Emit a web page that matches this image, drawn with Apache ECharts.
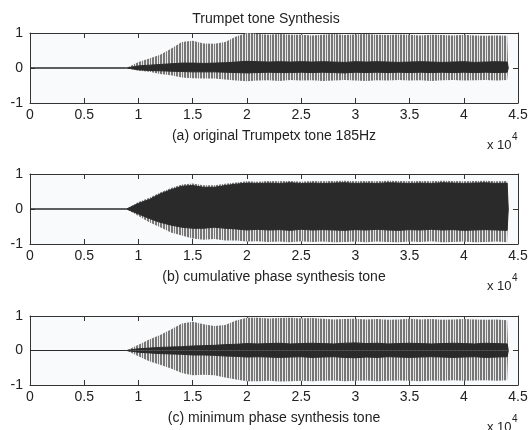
<!DOCTYPE html>
<html>
<head>
<meta charset="utf-8">
<script src="https://cdn.jsdelivr.net/npm/echarts@6/dist/echarts.min.js"></script>
<style>
  html, body { margin: 0; padding: 0; background: #ffffff; }
  #chart { width: 532px; height: 430px; }
</style>
</head>
<body>
<div id="chart"></div>
<script>
// Sample positions (sample index) where the waveform envelopes are given
const sampleIdx = [0, 8900, 9000, 10000, 11000, 12000, 13000, 14000, 15000, 16000, 17000, 18000, 19000, 20000, 21000, 22000, 23000, 24000, 25000, 26000, 27000, 28000, 29000, 30000, 31000, 32000, 33000, 34000, 35000, 36000, 37000, 38000, 39000, 40000, 41000, 42000, 43000, 44000, 44100];

// (a) original trumpet tone: peak envelopes and dense core
const peakUpA = [0, 0, 0.05, 0.17, 0.27, 0.38, 0.55, 0.74, 0.78, 0.70, 0.69, 0.74, 0.90, 1.0, 0.97, 0.95, 0.97, 0.95, 0.95, 0.93, 0.95, 0.97, 0.94, 0.96, 0.97, 0.95, 0.94, 0.96, 0.95, 0.93, 0.95, 0.94, 0.93, 0.95, 0.93, 0.92, 0.93, 0.92, 0];
const peakDnA = [0, 0, -0.04, -0.08, -0.11, -0.17, -0.21, -0.27, -0.29, -0.30, -0.30, -0.33, -0.36, -0.38, -0.36, -0.35, -0.37, -0.34, -0.36, -0.35, -0.37, -0.36, -0.34, -0.36, -0.37, -0.35, -0.36, -0.34, -0.36, -0.35, -0.37, -0.35, -0.34, -0.36, -0.35, -0.34, -0.36, -0.34, 0];
const coreUpA = [0, 0, 0.04, 0.06, 0.08, 0.10, 0.12, 0.14, 0.14, 0.13, 0.14, 0.15, 0.17, 0.19, 0.18, 0.17, 0.18, 0.17, 0.18, 0.17, 0.18, 0.17, 0.16, 0.18, 0.17, 0.18, 0.17, 0.16, 0.17, 0.18, 0.17, 0.16, 0.17, 0.18, 0.16, 0.17, 0.18, 0.17, 0];
const coreDnA = [0, 0, -0.04, -0.05, -0.07, -0.08, -0.09, -0.10, -0.11, -0.11, -0.11, -0.12, -0.13, -0.14, -0.13, -0.12, -0.13, -0.13, -0.12, -0.13, -0.12, -0.13, -0.14, -0.12, -0.13, -0.12, -0.13, -0.12, -0.13, -0.12, -0.13, -0.12, -0.13, -0.12, -0.13, -0.12, -0.13, -0.12, 0];

// (b) cumulative phase synthesis tone
const peakUpB = [0, 0, 0.03, 0.20, 0.32, 0.47, 0.60, 0.70, 0.73, 0.68, 0.68, 0.72, 0.76, 0.79, 0.78, 0.80, 0.79, 0.80, 0.78, 0.80, 0.79, 0.80, 0.81, 0.79, 0.80, 0.79, 0.81, 0.80, 0.79, 0.80, 0.79, 0.81, 0.80, 0.79, 0.80, 0.81, 0.79, 0.80, 0];
const peakDnB = [0, 0, -0.04, -0.20, -0.38, -0.52, -0.67, -0.76, -0.84, -0.88, -0.86, -0.90, -0.90, -0.93, -0.92, -0.94, -0.93, -0.95, -0.92, -0.94, -0.93, -0.95, -0.94, -0.93, -0.95, -0.93, -0.94, -0.95, -0.93, -0.94, -0.92, -0.95, -0.94, -0.93, -0.95, -0.94, -0.93, -0.95, 0];
const coreUpB = [0, 0, 0.02, 0.16, 0.27, 0.43, 0.55, 0.65, 0.67, 0.62, 0.62, 0.67, 0.71, 0.74, 0.73, 0.74, 0.73, 0.75, 0.73, 0.74, 0.73, 0.74, 0.75, 0.73, 0.74, 0.73, 0.75, 0.74, 0.73, 0.74, 0.73, 0.75, 0.74, 0.73, 0.74, 0.75, 0.73, 0.74, 0];
const coreDnB = [0, 0, -0.02, -0.14, -0.27, -0.38, -0.46, -0.52, -0.55, -0.55, -0.52, -0.55, -0.57, -0.60, -0.58, -0.60, -0.59, -0.61, -0.58, -0.60, -0.59, -0.60, -0.61, -0.59, -0.60, -0.58, -0.60, -0.61, -0.59, -0.60, -0.58, -0.60, -0.59, -0.61, -0.60, -0.59, -0.60, -0.61, 0];

// (c) minimum phase synthesis tone
const peakUpC = [0, 0, 0.04, 0.17, 0.32, 0.45, 0.61, 0.78, 0.83, 0.76, 0.71, 0.74, 0.87, 0.95, 0.95, 0.93, 0.94, 0.95, 0.93, 0.94, 0.92, 0.90, 0.91, 0.92, 0.90, 0.91, 0.89, 0.90, 0.92, 0.90, 0.91, 0.89, 0.90, 0.91, 0.90, 0.89, 0.90, 0.88, 0];
const peakDnC = [0, 0, -0.04, -0.17, -0.31, -0.41, -0.52, -0.65, -0.72, -0.70, -0.72, -0.78, -0.84, -0.89, -0.89, -0.88, -0.90, -0.89, -0.88, -0.89, -0.88, -0.87, -0.89, -0.88, -0.87, -0.89, -0.88, -0.87, -0.88, -0.89, -0.87, -0.88, -0.86, -0.88, -0.87, -0.86, -0.88, -0.86, 0];
const coreUpC = [0, 0, 0.04, 0.05, 0.07, 0.09, 0.10, 0.11, 0.13, 0.14, 0.15, 0.17, 0.18, 0.20, 0.19, 0.20, 0.21, 0.19, 0.20, 0.21, 0.20, 0.19, 0.21, 0.22, 0.20, 0.21, 0.19, 0.20, 0.21, 0.20, 0.19, 0.20, 0.21, 0.20, 0.19, 0.21, 0.20, 0.19, 0];
const coreDnC = [0, 0, -0.04, -0.05, -0.07, -0.09, -0.10, -0.11, -0.13, -0.13, -0.14, -0.16, -0.17, -0.19, -0.18, -0.19, -0.20, -0.19, -0.18, -0.20, -0.19, -0.18, -0.20, -0.21, -0.19, -0.20, -0.18, -0.19, -0.20, -0.19, -0.18, -0.19, -0.20, -0.19, -0.18, -0.20, -0.19, -0.18, 0];

const xTickLabels = ['0', '0.5', '1', '1.5', '2', '2.5', '3', '3.5', '4', '4.5'];
const captions = ['(a) original Trumpetx tone 185Hz', '(b) cumulative phase synthesis tone', '(c) minimum phase synthesis tone'];
const panels = [
  { up: peakUpA, dn: peakDnA, cu: coreUpA, cd: coreDnA },
  { up: peakUpB, dn: peakDnB, cu: coreUpB, cd: coreDnB },
  { up: peakUpC, dn: peakDnC, cu: coreUpC, cd: coreDnC }
];

const FONT = '"Liberation Sans", Arial, Helvetica, sans-serif';
const INK = '#222222';
const AXIS = '#333333';
const CORE = '#2a2a2a';

// vertical stripe texture for the individual pitch pulses
function stripes(mask, dark, light) {
  const c = document.createElement('canvas');
  c.width = mask.length; c.height = 4;
  const ctx = c.getContext('2d');
  for (let i = 0; i < mask.length; i++) {
    ctx.fillStyle = mask[i] === '1' ? dark : light;
    ctx.fillRect(i, 0, 1, 4);
  }
  return { image: c, repeat: 'repeat' };
}
const pulseFill = stripes('11011010', '#767676', '#e9e9e9');

const gridTops = [33, 174, 316];
const gridHeights = [70, 70, 69];

const grids = [], xAxes = [], yAxes = [], series = [], graphics = [];
const pair = arr => arr.map((v, i) => [sampleIdx[i], v]);

panels.forEach((p, k) => {
  grids.push({ left: 30, right: 14, top: gridTops[k], height: gridHeights[k], show: true, backgroundColor: '#f8fafc', borderWidth: 0 });
  const lineStyle = { color: AXIS, width: 1 };
  xAxes.push({
    gridIndex: k, type: 'value', min: 0, max: 45000, interval: 5000, position: 'bottom',
    axisLine: { show: true, onZero: false, lineStyle },
    axisTick: { show: true, inside: true, length: 5, lineStyle },
    splitLine: { show: false },
    axisLabel: { margin: 5, color: INK, fontFamily: FONT, fontSize: 14, showMinLabel: true, showMaxLabel: true,
      formatter: v => xTickLabels[Math.round(v / 5000)] },
    name: captions[k], nameLocation: 'middle', nameGap: 26,
    nameTextStyle: { color: INK, fontFamily: FONT, fontSize: 14 }
  });
  xAxes.push({
    gridIndex: k, type: 'value', min: 0, max: 45000, interval: 5000, position: 'top',
    axisLine: { show: true, onZero: false, lineStyle },
    axisTick: { show: true, inside: true, length: 5, lineStyle },
    splitLine: { show: false }, axisLabel: { show: false }
  });
  yAxes.push({
    gridIndex: k, type: 'value', min: -1, max: 1, interval: 1, position: 'left',
    axisLine: { show: true, onZero: false, lineStyle },
    axisTick: { show: true, inside: true, length: 5, lineStyle },
    splitLine: { show: false },
    axisLabel: { margin: 7, color: INK, fontFamily: FONT, fontSize: 14 }
  });
  yAxes.push({
    gridIndex: k, type: 'value', min: -1, max: 1, interval: 1, position: 'right',
    axisLine: { show: true, onZero: false, lineStyle },
    axisTick: { show: true, inside: true, length: 5, lineStyle },
    splitLine: { show: false }, axisLabel: { show: false }
  });
  const xi = 2 * k, yi = 2 * k;
  const base = { type: 'line', xAxisIndex: xi, yAxisIndex: yi, showSymbol: false, symbol: 'none', silent: true, animation: false };
  series.push(Object.assign({}, base, { data: pair(p.up), lineStyle: { width: 0, opacity: 0 }, areaStyle: { color: pulseFill, opacity: 1, origin: 0 }, z: 2 }));
  series.push(Object.assign({}, base, { data: pair(p.dn), lineStyle: { width: 0, opacity: 0 }, areaStyle: { color: pulseFill, opacity: 1, origin: 0 }, z: 2 }));
  series.push(Object.assign({}, base, { data: pair(p.cu), lineStyle: { color: CORE, width: 1 }, areaStyle: { color: CORE, opacity: 1, origin: 0 }, z: 3 }));
  series.push(Object.assign({}, base, { data: pair(p.cd), lineStyle: { color: CORE, width: 1 }, areaStyle: { color: CORE, opacity: 1, origin: 0 }, z: 3 }));

  const bottom = gridTops[k] + gridHeights[k];
  graphics.push({ type: 'text', x: 487, y: bottom + 42, style: { text: 'x 10', font: '13px ' + FONT, fill: INK, verticalAlign: 'middle' } });
  graphics.push({ type: 'text', x: 512, y: bottom + 34, style: { text: '4', font: '10px ' + FONT, fill: INK, verticalAlign: 'middle' } });
});

const chart = echarts.init(document.getElementById('chart'), null, { renderer: 'canvas' });
chart.setOption({
  animation: false,
  backgroundColor: '#ffffff',
  title: { text: 'Trumpet tone Synthesis', left: 'center', top: 7, textStyle: { color: INK, fontFamily: FONT, fontSize: 14, fontWeight: 'normal' } },
  grid: grids,
  xAxis: xAxes,
  yAxis: yAxes,
  series: series,
  graphic: graphics
});
</script>
</body>
</html>
